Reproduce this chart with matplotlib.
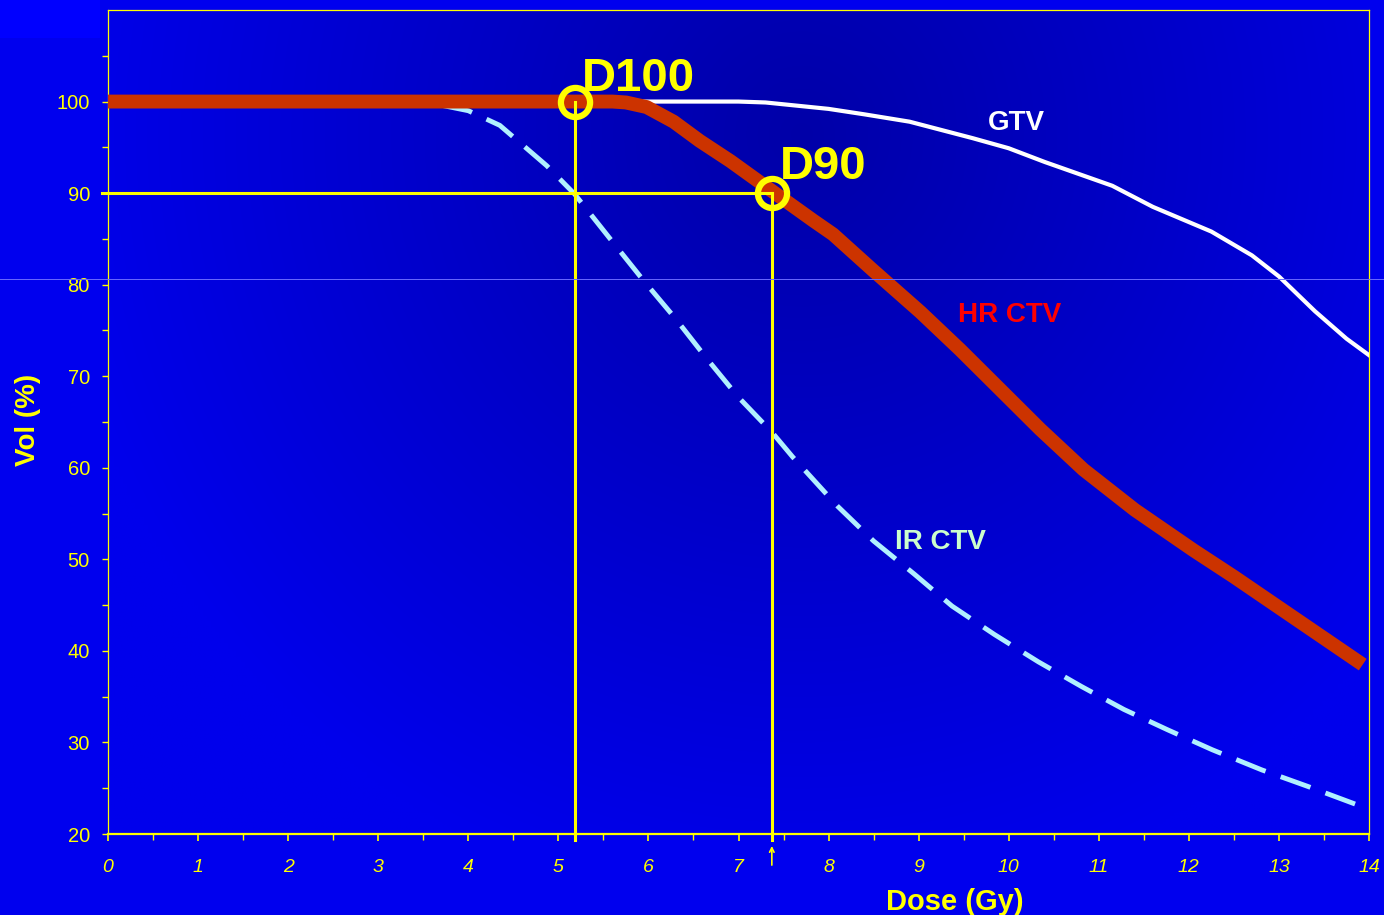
import numpy as np
import matplotlib
matplotlib.use('Agg')
from matplotlib import pyplot as plt
from matplotlib.lines import Line2D
from matplotlib.patches import Rectangle

# values (dose in Gy, volume in %)
hr_dose = [0, 5.6, 5.75, 5.98, 6.28, 6.57, 6.91, 7.39, 7.83, 8.05, 8.49, 9.02, 9.46, 9.9,
           10.35, 10.83, 11.4, 12.05, 12.5, 13.2, 13.93]
hr_vol = [100, 100, 99.9, 99.4, 97.8, 95.7, 93.5, 90.1, 87.0, 85.5, 81.6, 77.0, 72.9, 68.6,
          64.2, 59.8, 55.4, 51.0, 48.1, 43.4, 38.5]

gtv_dose = [0, 7.0, 7.3, 8.0, 8.4, 8.9, 9.6, 10.0, 10.4, 11.15, 11.6, 12.25, 12.7, 13.0, 13.4, 13.75, 14.0]
gtv_vol = [100, 100, 99.9, 99.2, 98.6, 97.8, 96.0, 94.9, 93.4, 90.8, 88.5, 85.8, 83.2, 80.9, 77.1, 74.1, 72.3]

ir_dose = [0, 3.6, 4.0, 4.35, 4.87, 5.18, 5.6, 5.95, 6.3, 6.65, 7.0, 7.37, 7.6, 8.1, 8.5,
           8.95, 9.37, 9.84, 10.33, 10.81, 11.28, 11.76, 12.26, 12.81, 13.32, 13.92]
ir_vol = [100, 99.8, 99.0, 97.4, 93.0, 89.9, 84.7, 80.4, 76.3, 71.9, 67.7, 63.9, 61.2, 55.8, 52.0,
          48.4, 44.9, 41.8, 38.8, 36.1, 33.6, 31.4, 29.2, 27.0, 25.2, 23.0]

d100 = (5.18, 100)
d90 = (7.37, 90)

x_ticks = list(range(0, 15))
y_ticks = list(range(20, 101, 10))

YEL = '#FFFF00'

fig = plt.figure(figsize=(13.84, 9.15), dpi=100)
fig.patch.set_facecolor('#0000EE')
fig.patches.append(Rectangle((0, 1 - 38 / 915), 100 / 1384, 38 / 915, transform=fig.transFigure,
                             facecolor='#0000FF', edgecolor='none', zorder=0))
ax = fig.add_axes([108 / 1384, 1 - 834 / 915, (1369 - 108) / 1384, (834 - 10) / 915])

# background gradient: darker towards the upper middle
gx, gy = np.meshgrid(np.linspace(0, 1, 300), np.linspace(0, 1, 300))
d = np.sqrt(((gx - 0.55) / 0.6) ** 2 + ((gy - 0.85) / 0.95) ** 2)
d = np.clip(d, 0, 1)
blue = (0xA8 + (0xEC - 0xA8) * d) / 255.0
img = np.zeros((300, 300, 3))
img[..., 2] = blue
ax.imshow(img, extent=[0, 1, 0, 1], transform=ax.transAxes, origin='lower',
          aspect='auto', zorder=0, interpolation='bilinear')

ax.set_xlim(0, 14)
ax.set_ylim(20, 110)

# curves
ax.plot(gtv_dose, gtv_vol, color='white', lw=3, zorder=3)
ax.plot(ir_dose, ir_vol, color='#B0F0FF', lw=3.5, dashes=(6.5, 3.3), zorder=3)
ax.plot(hr_dose, hr_vol, color='#CC3300', lw=10, solid_capstyle='butt',
        solid_joinstyle='round', zorder=4)

# guide lines
ax.plot([d100[0], d100[0]], [19.3, d100[1]], color=YEL, lw=2.2, clip_on=False, zorder=5)
ax.plot([d90[0], d90[0]], [19.3, d90[1]], color=YEL, lw=2.2, clip_on=False, zorder=5)
ax.plot([-0.07, d90[0]], [d90[1], d90[1]], color=YEL, lw=2.2, clip_on=False, zorder=5)
ax.plot([d100[0], d90[0]], [d100[1], d90[1]], ls='none', marker='o', ms=21, mew=4.5,
        mfc='none', mec=YEL, zorder=6)
ax.annotate('', xy=(d90[0], 19.0), xytext=(d90[0], 16.3),
            arrowprops=dict(arrowstyle='->', color=YEL, lw=1.2, mutation_scale=8),
            annotation_clip=False)

bold = dict(family='Liberation Sans', weight='bold')
ax.text(5.26, 101.2, 'D100', color=YEL, fontsize=34, va='baseline', ha='left', zorder=7, **bold)
ax.text(7.46, 91.5, 'D90', color=YEL, fontsize=34, va='baseline', ha='left', zorder=7, **bold)
ax.text(9.77, 96.9, 'GTV', color='white', fontsize=20, va='baseline', zorder=7, **bold)
ax.text(9.44, 75.9, 'HR CTV', color='#FF0000', fontsize=20, va='baseline', zorder=7, **bold)
ax.text(8.74, 51.1, 'IR CTV', color='#CCFFCC', fontsize=20, va='baseline', zorder=7, **bold)

# axes styling
for side in ['left', 'top', 'right']:
    ax.spines[side].set_color(YEL)
    ax.spines[side].set_linewidth(0.9)
ax.spines['bottom'].set_color(YEL)
ax.spines['bottom'].set_linewidth(1.6)

ax.set_xticks(x_ticks)
ax.set_xticks(np.arange(0.5, 14, 1), minor=True)
ax.set_xticklabels([str(t) for t in x_ticks], fontstyle='italic', family='Liberation Sans')
ax.set_yticks(y_ticks)
ax.set_yticks(np.arange(25, 110, 10), minor=True)
ax.set_yticklabels([str(t) for t in y_ticks], family='Liberation Sans')
ax.tick_params(axis='x', which='major', length=5, width=1.2, color=YEL, labelcolor=YEL,
               labelsize=14, pad=13)
ax.tick_params(axis='x', which='minor', length=4, width=1, color=YEL)
ax.tick_params(axis='y', which='both', length=4, width=1, color=YEL, labelcolor=YEL,
               labelsize=14.5, pad=9)

fig.text(28 / 1384, 1 - 420 / 915, 'Vol (%)', color=YEL, fontsize=20, rotation=90,
         ha='center', va='center', **bold)
fig.text(955 / 1384, 1 - 902 / 915, 'Dose (Gy)', color=YEL, fontsize=21,
         ha='center', va='center', **bold)

# faint scan line across the figure
fig.lines.append(Line2D([0, 1], [1 - 279 / 915] * 2, transform=fig.transFigure,
                        color='#6A6AFF', lw=0.7, zorder=10))

fig.savefig('out.png', dpi=100, facecolor=fig.get_facecolor())
